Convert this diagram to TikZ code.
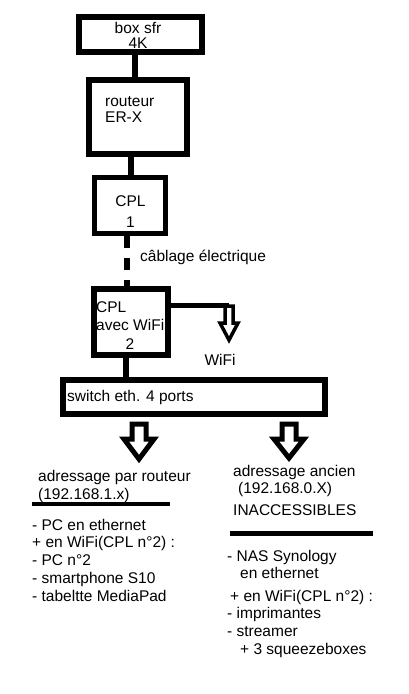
\documentclass[tikz,border=0pt]{standalone}
\usepackage{fontspec}
\setmainfont{Liberation Sans}
\tikzset{
	boite/.style={draw, rectangle, line width=5.5pt, inner sep=0pt},
	lien/.style={line width=5.5pt},
	fleche/.style={line width=5pt, line join=miter},
	trait/.style={line width=4.5pt},
	texte/.style={inner sep=0pt, font=\fontsize{15.5}{17.7}\selectfont},
}
\begin{document}
\begin{tikzpicture}[x=1pt, y=-1pt]
	\useasboundingbox (0,0) rectangle (409,694);

	\node[boite, minimum width=123pt, minimum height=35pt] (sfr) at (140.5,34.5) {};
	\node[texte, align=center, anchor=base] (sfrtxt) at (138,48) {box sfr\\[-3.2pt]4K};

	\node[boite, minimum width=98pt, minimum height=74pt] (routeur) at (138,117) {};
	\node[texte, align=left, anchor=base west] (routeurtxt) at (105,122.7) {routeur\\[-1pt]ER-X};

	\node[boite, minimum width=71pt, minimum height=56pt] (cpl1) at (130,205.5) {};
	\node[texte, align=center, anchor=base] (cpl1txt) at (130.5,227) {CPL\\[3.3pt]1};

	\node[boite, minimum width=74pt, minimum height=66pt] (cpl2) at (131,322) {};
	\node[texte, align=left, anchor=base west] (cpl2txt) at (96,330) {CPL\\[0.3pt]avec WiFi};
	\node[texte, anchor=base] (cpl2num) at (130,349) {2};

	\node[boite, minimum width=262pt, minimum height=34pt] (switch) at (194,397) {};
	\node[texte, anchor=base west] (switchtxt) at (67,401) {switch eth. 4 ports};

	\draw[lien] ([xshift=-5.5pt]sfr.south) -- ([xshift=-3pt]routeur.north);
	\draw[lien] ([xshift=-7pt]routeur.south) -- ([xshift=1pt]cpl1.north);
	\draw[lien, dash pattern=on 12pt off 10pt] ([xshift=-3pt]cpl1.south) -- ([xshift=-4pt]cpl2.north);
	\draw[lien] ([xshift=-5pt]cpl2.south) -- ([xshift=-5pt]cpl2.south |- switch.north);
	\node[texte, anchor=base west] (cablage) at (140,261) {câblage électrique};

	\coordinate (wifi) at (229,305.5);
	\draw[lien] ([yshift=16.5pt]cpl2.east) -- (wifi);
	\draw[fleche, line width=3.5pt] (225,306) -- (225,323) -- (220,323) -- (229,340) -- (238,323) -- (233,323) -- (233,306) -- cycle;
	\node[texte, anchor=base] (wifitxt) at (220,365) {WiFi};

	\draw[fleche] (132,424) -- (132,439) -- (124,439) -- (139,459) -- (154,439) -- (146,439) -- (146,424) -- cycle;
	\draw[fleche] (282,424) -- (282,439) -- (274,439) -- (289,458) -- (304,439) -- (296,439) -- (296,424) -- cycle;

	\node[texte, align=left, anchor=base west] (adrrouteur) at (38,499) {adressage par routeur\\[0.3pt](192.168.1.x)};
	\draw[trait] (32,504) -- (170,504);
	\node[texte, align=left, anchor=base west] (listerouteur) at (32,601)
		{- PC en ethernet\\+ en WiFi(CPL n°2) :\\- PC n°2\\- smartphone S10\\- tabeltte MediaPad};

	\node[texte, align=left, anchor=base west] (adrancien) at (233,515.7)
		{adressage ancien\\[-0.7pt]\hspace*{5pt}(192.168.0.X)\\[5pt]INACCESSIBLES};
	\draw[trait, line width=5pt] (230,533) -- (373,533);
	\node[texte, align=left, anchor=base west] (listeancien) at (227,654)
		{- NAS Synology\\[-1.4pt]\hspace*{13pt}en ethernet\\[6pt]\hspace*{3pt}+ en WiFi(CPL n°2) :\\[-1.4pt]- imprimantes\\[0.3pt]- streamer\\[0.3pt]\hspace*{13pt}+ 3 squeezeboxes};
\end{tikzpicture}
\end{document}
